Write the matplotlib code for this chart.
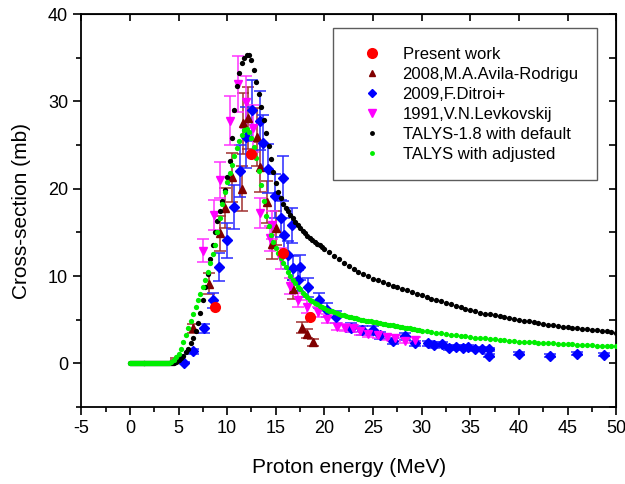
import matplotlib
matplotlib.use("Agg")
import matplotlib.pyplot as plt
from matplotlib.lines import Line2D
import numpy as np

plt.rcParams['font.family'] = ['Liberation Sans', 'DejaVu Sans']
plt.rcParams['axes.unicode_minus'] = False

# TALYS-1.8 default: zero below threshold, 0.25 MeV grid up to 20 MeV, then 0.5 MeV
talys_def_e = np.concatenate([np.arange(0, 4.45, 0.1), np.arange(4.5, 20.01, 0.25),
                              np.arange(20.5, 50.01, 0.5)])
talys_def = [0.0] * 45 + [
    0.1, 0.2,
    0.4, 0.6, 0.9, 1.3,
    1.7, 2.3, 2.9, 3.7,
    4.6, 5.8, 7.2, 8.7,
    10.2, 12.0, 13.6, 15.0,
    16.3, 17.4, 18.6, 19.8,
    21.3, 23.2, 25.8, 29.0,
    31.8, 33.3, 34.4, 35.0,
    35.3, 35.3, 34.7, 33.6,
    32.2, 30.8, 29.4, 27.9,
    26.4, 24.9, 23.4, 21.9,
    20.6, 19.6, 18.9, 18.3,
    17.8, 17.4, 17.0, 16.6,
    16.2, 15.9, 15.5, 15.2,
    14.9, 14.6, 14.4, 14.1,
    13.9, 13.7, 13.5, 13.3,
    13.1,
    12.7, 12.3, 11.9, 11.5, 11.1, 10.8, 10.5, 10.2, 9.95,
    9.7, 9.5, 9.3, 9.1, 8.9, 8.7, 8.5, 8.35, 8.2, 8.0,
    7.8, 7.6, 7.4, 7.25, 7.1, 6.95, 6.8, 6.6, 6.4, 6.25,
    6.1, 5.95, 5.8, 5.7, 5.6, 5.5, 5.4, 5.3, 5.2, 5.1,
    5.0, 4.9, 4.8, 4.7, 4.6, 4.52, 4.45, 4.37, 4.3, 4.22,
    4.15, 4.07, 4.0, 3.95, 3.9, 3.85, 3.8, 3.72, 3.65, 3.57, 3.5]

# TALYS with adjusted parameters: zero below threshold, 0.25 MeV grid up to 30 MeV, then 0.5 MeV
talys_adj_e = np.concatenate([np.arange(0, 3.95, 0.1), np.arange(4, 30.01, 0.25),
                              np.arange(30.5, 50.01, 0.5)])
talys_adj = [0.0] * 40 + [
    0.05, 0.2, 0.4, 0.7,
    1.1, 1.7, 2.4, 3.2,
    4.0, 4.8, 5.6, 6.5,
    7.3, 8.0, 8.8, 9.6,
    10.5, 11.5, 12.5, 13.6,
    15.0, 16.6, 18.2, 19.6,
    20.8, 21.8, 22.7, 23.7,
    24.7, 25.5, 26.2, 26.7,
    26.8, 26.5, 25.8, 24.8,
    23.5, 22.0, 20.4, 18.6,
    16.9, 15.7, 14.7, 13.9,
    13.2, 12.6, 12.1, 11.5,
    11.0, 10.5, 10.0, 9.6,
    9.2, 8.8, 8.5, 8.1,
    7.8, 7.55, 7.3, 7.1,
    6.9, 6.75, 6.6, 6.45,
    6.3, 6.15, 6.05, 5.95,
    5.85, 5.75, 5.65, 5.55,
    5.5, 5.42, 5.35, 5.27,
    5.2, 5.14, 5.08, 5.02,
    4.96, 4.9, 4.85, 4.8,
    4.75, 4.7, 4.65, 4.6,
    4.55, 4.5, 4.45, 4.4,
    4.35, 4.3, 4.25, 4.2,
    4.15, 4.1, 4.05, 4.0,
    3.95, 3.9, 3.85, 3.8,
    3.75,
    3.68, 3.6, 3.52, 3.45, 3.38, 3.3, 3.22, 3.15, 3.08, 3.0,
    2.95, 2.9, 2.85, 2.8, 2.75, 2.7, 2.65, 2.6, 2.55, 2.5,
    2.47, 2.44, 2.41, 2.38, 2.35, 2.32, 2.29, 2.26, 2.23, 2.2,
    2.17, 2.14, 2.11, 2.08, 2.05, 2.02, 2.0, 1.98, 1.96, 1.94]

present_e = [8.7, 12.4, 15.7, 18.5]
present_s = [6.4, 24.0, 12.6, 5.3]

avila_e = [4.7, 6.5, 8.1, 9.3, 9.8, 10.5, 11.5, 11.6, 12.1, 13.1, 13.4, 14.1,
           14.6, 15.0, 16.8, 17.7, 18.2, 18.8]
avila_s = [0.5, 4.0, 9.1, 14.9, 17.8, 21.3, 20.0, 27.5, 28.1, 25.9, 22.5, 18.5,
           13.7, 15.5, 8.5, 4.1, 3.4, 2.4]
avila_err = [0.1, 0.5, 1.2, 2.0, 2.3, 2.8, 2.6, 3.5, 3.6, 3.3, 2.9, 2.4,
             1.8, 2.0, 1.1, 0.6, 0.5, 0.4]

ditroi_e = [5.6, 6.5, 7.6, 8.5, 9.2, 10.0, 10.7, 11.3, 11.9, 12.6, 13.4, 13.7,
            14.2, 14.9, 15.5, 15.7, 15.8, 16.3, 16.7, 16.8, 17.3, 17.5, 18.3, 19.4,
            20.3, 21.2, 22.7, 23.9, 25.0, 25.7, 27.0, 28.3, 29.3, 30.6, 31.3, 32.1,
            32.8, 33.5, 34.2, 34.8, 35.5, 36.2, 36.9, 36.9, 40.0, 43.2, 46.0, 48.7]
ditroi_s = [0.1, 1.4, 4.0, 7.2, 11.0, 14.1, 17.9, 22.0, 25.9, 29.0, 27.8, 25.2,
            22.3, 19.2, 16.6, 21.2, 14.7, 12.4, 15.8, 10.9, 9.5, 11.0, 8.7, 7.2,
            6.1, 5.3, 4.1, 3.8, 3.8, 3.2, 2.6, 3.1, 2.3, 2.3, 2.1, 2.2,
            1.8, 1.9, 1.8, 1.9, 1.6, 1.7, 1.6, 0.9, 1.1, 0.9, 1.1, 1.0]
ditroi_err = [0.1, 0.3, 0.5, 0.9, 1.6, 2.0, 2.5, 3.0, 3.5, 3.5, 3.4, 3.2,
              2.8, 2.5, 2.1, 2.6, 1.9, 1.6, 2.0, 1.4, 1.2, 1.4, 1.1, 0.9,
              0.8, 0.7, 0.5, 0.5, 0.5, 0.4, 0.35, 0.4, 0.3, 0.3, 0.3, 0.3,
              0.25, 0.25, 0.25, 0.25, 0.2, 0.2, 0.2, 0.15, 0.15, 0.15, 0.15, 0.15]

levk_e = [7.55, 8.6, 9.3, 10.3, 11.1, 11.9, 12.7, 13.4, 14.6, 14.4, 15.5, 16.5,
          17.3, 18.2, 19.3, 20.3, 21.3, 22.1, 22.9, 23.7, 24.5, 25.5, 26.4, 27.3,
          28.3, 29.3]
levk_s = [12.9, 17.0, 21.0, 27.8, 32.0, 29.9, 26.9, 17.2, 15.8, 14.3, 12.0, 8.9,
          7.3, 6.5, 5.9, 5.1, 4.2, 4.1, 4.0, 3.7, 3.4, 3.2, 3.0, 2.9,
          2.6, 2.7]
levk_err = [1.3, 1.7, 2.1, 2.8, 3.2, 3.0, 2.7, 1.7, 1.6, 1.4, 1.2, 0.9,
            0.8, 0.7, 0.6, 0.5, 0.4, 0.4, 0.4, 0.4, 0.35, 0.3, 0.3, 0.3,
            0.3, 0.3]

labels = ["Present work", "2008,M.A.Avila-Rodrigu", "2009,F.Ditroi+",
          "1991,V.N.Levkovskij", "TALYS-1.8 with default", "TALYS with adjusted"]

fig = plt.figure(figsize=(6.25, 4.84), dpi=100)
ax = fig.add_axes([0.13, 0.159, 0.856, 0.812])

ax.errorbar(avila_e, avila_s, yerr=avila_err, fmt='^', color='#800000', ms=5.5,
            ecolor='#a03030', elinewidth=1.1, capsize=4, capthick=1.1, zorder=3)
ax.errorbar(ditroi_e, ditroi_s, yerr=ditroi_err, fmt='D', color='#0000ff', ms=5,
            ecolor='#2a2aff', elinewidth=1.1, capsize=4, capthick=1.1, zorder=3)
ax.errorbar(levk_e, levk_s, yerr=levk_err, fmt='v', color='#ff00ff', ms=6,
            ecolor='#ff33ff', elinewidth=1.1, capsize=4, capthick=1.1, zorder=3)
ax.plot(talys_def_e, talys_def, 'o', color='black', ms=3.8, mew=0, zorder=4)
ax.plot(talys_adj_e, talys_adj, 'o', color='#00ee00', ms=3.8, mew=0, zorder=5)
ax.plot(present_e, present_s, 'o', color='#ff0000', ms=8, mew=0, zorder=6)

ax.set_xlim(-5, 50)
ax.set_ylim(-5, 40)
ax.set_xticks(np.arange(-5, 51, 5))
ax.set_xticks(np.arange(-2.5, 50, 5), minor=True)
ax.set_yticks(np.arange(0, 41, 10))
ax.set_yticks(np.arange(-5, 40, 10), minor=True)
ax.tick_params(which='both', direction='out', top=False, right=False, width=1.2)
ax.tick_params(which='major', length=6, labelsize=13)
ax.tick_params(which='minor', length=3.5)
for s in ax.spines.values():
    s.set_linewidth(1.3)

# inward ticks on the top and right axes
top = ax.secondary_xaxis('top')
top.set_xticks(np.arange(-5, 51, 5))
top.tick_params(direction='in', length=5, width=1.2, labeltop=False)
right = ax.secondary_yaxis('right')
right.set_yticks(np.arange(-5, 41, 5))
right.tick_params(direction='in', length=5, width=1.2, labelright=False)

ax.set_xlabel("Proton energy (MeV)", fontsize=15, labelpad=15)
ax.set_ylabel("Cross-section (mb)", fontsize=15, labelpad=12)

handles = [
    Line2D([], [], ls='', marker='o', color='#ff0000', ms=8, mew=0),
    Line2D([], [], ls='', marker='^', color='#800000', ms=5),
    Line2D([], [], ls='', marker='D', color='#0000ff', ms=4.5),
    Line2D([], [], ls='', marker='v', color='#ff00ff', ms=5.5),
    Line2D([], [], ls='', marker='o', color='black', ms=3.5, mew=0),
    Line2D([], [], ls='', marker='o', color='#00ee00', ms=3.5, mew=0),
]
leg = ax.legend(handles, labels, loc='upper right', bbox_to_anchor=(0.964, 0.964),
                fontsize=12, frameon=True, fancybox=False, borderpad=1.1,
                labelspacing=0.3, handlelength=2.5, handletextpad=0.6,
                borderaxespad=0)
leg.get_frame().set_edgecolor('#333333')
leg.get_frame().set_linewidth(1.0)

fig.savefig("out.png", dpi=100)
